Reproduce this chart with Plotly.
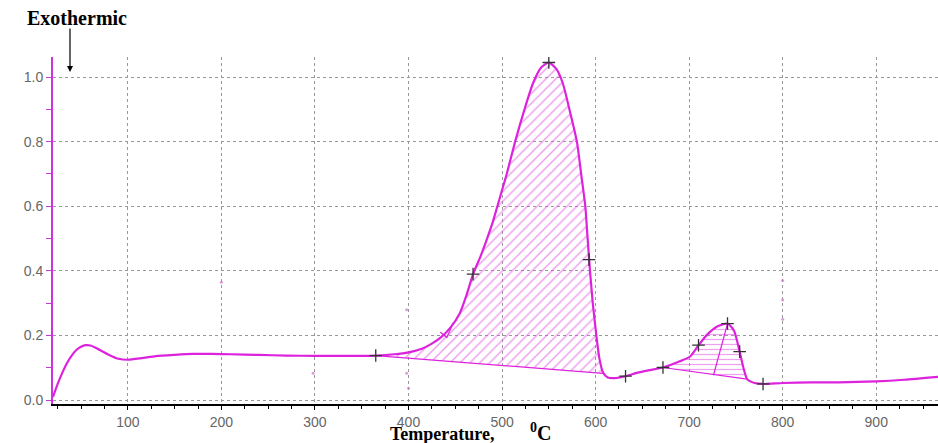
import plotly.graph_objects as go

# ---- data ----
temperature = [20, 25, 30, 35, 40, 45, 50, 55, 60, 65, 70, 80, 90, 100, 115, 130, 150, 170, 190,
               210, 240, 270, 300, 330, 365, 385, 400, 415, 425, 435, 445, 455, 462, 469, 477, 484,
               490, 495, 505, 514, 524, 533, 542, 550, 558, 565, 572, 580, 585, 589, 591, 594, 597,
               601, 604, 608, 613, 620, 632, 645, 658, 672, 690, 701, 710, 720, 730, 741, 748, 754,
               758, 762, 770, 779, 800, 830, 860, 900, 930, 966]
signal = [0.01, 0.05, 0.085, 0.115, 0.138, 0.155, 0.165, 0.17, 0.169, 0.163, 0.155, 0.14, 0.128,
          0.125, 0.13, 0.136, 0.14, 0.143, 0.143, 0.142, 0.14, 0.138, 0.137, 0.137, 0.138, 0.142,
          0.148, 0.16, 0.175, 0.195, 0.225, 0.27, 0.325, 0.39, 0.445, 0.5, 0.55, 0.6, 0.7, 0.8, 0.9,
          0.98, 1.03, 1.045, 1.025, 0.98, 0.9, 0.8, 0.69, 0.6, 0.52, 0.4, 0.3, 0.195, 0.13, 0.085,
          0.07, 0.068, 0.074, 0.085, 0.093, 0.101, 0.12, 0.135, 0.17, 0.205, 0.228, 0.237, 0.215,
          0.15, 0.10, 0.065, 0.053, 0.05, 0.053, 0.055, 0.055, 0.058, 0.063, 0.072]

marker_t = [365, 469, 550, 593, 632, 672, 710, 741, 754, 779]
marker_y = [0.138, 0.39, 1.045, 0.435, 0.074, 0.101, 0.17, 0.237, 0.15, 0.05]

peak1_range = (365, 608)
peak1_base = [(365, 0.138), (608, 0.083)]
peak2_range = (672, 762)
peak2_base = [(672, 0.101), (762, 0.065)]
peak2_drop = [(741, 0.237), (726, 0.077)]
peak1_mark = [(434, 0.21), (441, 0.194), (448, 0.24)]

stray_t = [200, 298, 398, 398, 400, 800, 800, 800]
stray_y = [0.365, 0.083, 0.28, 0.083, 0.037, 0.31, 0.25, 0.37]

x_ticks = [100, 200, 300, 400, 500, 600, 700, 800, 900]
y_ticks = [0.0, 0.2, 0.4, 0.6, 0.8, 1.0]

MAG = "#dd22dd"
SERIF = "Liberation Serif, Times New Roman, serif"


def region(lo, hi, base):
    xs = [t for t in temperature if lo <= t <= hi]
    ys = [s for t, s in zip(temperature, signal) if lo <= t <= hi]
    xs += [base[1][0], base[0][0]]
    ys += [base[1][1], base[0][1]]
    return xs, ys


fig = go.Figure()

x1, y1 = region(*peak1_range, peak1_base)
fig.add_trace(go.Scatter(x=x1, y=y1, mode="lines", fill="toself", line=dict(width=0),
                         fillcolor="rgba(0,0,0,0)",
                         fillpattern=dict(shape="/", fgcolor="#dd44dd", bgcolor="rgba(0,0,0,0)",
                                          size=7, solidity=0.22),
                         hoverinfo="skip", showlegend=False))
x2, y2 = region(*peak2_range, peak2_base)
fig.add_trace(go.Scatter(x=x2, y=y2, mode="lines", fill="toself", line=dict(width=0),
                         fillcolor="rgba(0,0,0,0)",
                         fillpattern=dict(shape="-", fgcolor="#dd44dd", bgcolor="rgba(0,0,0,0)",
                                          size=5, solidity=0.25),
                         hoverinfo="skip", showlegend=False))

for seg in (peak1_base, peak2_base, peak2_drop, peak1_mark):
    fig.add_trace(go.Scatter(x=[p[0] for p in seg], y=[p[1] for p in seg], mode="lines",
                             line=dict(color=MAG, width=1.2), showlegend=False, hoverinfo="skip"))

fig.add_trace(go.Scatter(x=temperature, y=signal, mode="lines",
                         line=dict(color=MAG, width=2.2, shape="spline", smoothing=0.6),
                         showlegend=False))

fig.add_trace(go.Scatter(x=stray_t, y=stray_y, mode="markers",
                         marker=dict(size=3, color="#d070d0", opacity=0.7),
                         showlegend=False, hoverinfo="skip"))

fig.add_trace(go.Scatter(x=marker_t, y=marker_y, mode="markers",
                         marker=dict(symbol="cross-thin", size=9,
                                     line=dict(color="#333333", width=1.3)),
                         showlegend=False))

fig.update_layout(
    width=938, height=443,
    margin=dict(l=53, r=0, t=57, b=39),
    plot_bgcolor="white", paper_bgcolor="white",
    font=dict(family="Liberation Sans, Arial, sans-serif", size=14, color="#666666"),
    xaxis=dict(range=[20, 966], tickvals=x_ticks, ticks="outside", ticklen=4,
               tickcolor="black", showline=True, linecolor="black", linewidth=2,
               showgrid=True, gridcolor="#999999", griddash="dot", gridwidth=1,
               minor=dict(dtick=25, tick0=0, ticks="outside", ticklen=3, tickcolor="black",
                          showgrid=False),
               zeroline=False, tickfont=dict(size=14, color="#666666")),
    yaxis=dict(range=[-0.012, 1.062], tickvals=y_ticks, tickformat=".1f", ticks="outside",
               ticklen=5, tickcolor="#cc33dd", showline=True, linecolor="#cc33dd", linewidth=2,
               showgrid=True, gridcolor="#999999", griddash="3px,3px", gridwidth=1,
               minor=dict(dtick=0.1, tick0=0, ticks="outside", ticklen=5, tickcolor="#cc33dd",
                          showgrid=False),
               zeroline=False, tickfont=dict(size=14, color="#666666")),
    annotations=[
        dict(text="<b>Exothermic</b>", xref="paper", yref="paper", x=-0.0316, y=1.112,
             xanchor="left", yanchor="middle", showarrow=False,
             font=dict(family=SERIF, size=20, color="black")),
        dict(text="", xref="paper", yref="paper", x=0.0192, y=0.957, ax=0, ay=-45,
             showarrow=True, arrowhead=2, arrowsize=1, arrowwidth=1.2, arrowcolor="black"),
        dict(text="<b>Temperature,</b>", xref="paper", yref="paper",
             x=0.3785, y=-0.12, xanchor="left", yanchor="bottom", showarrow=False,
             font=dict(family=SERIF, size=18, color="black")),
        dict(text="<b><sup>0</sup>C</b>", xref="paper", yref="paper",
             x=0.537, y=-0.12, xanchor="left", yanchor="bottom", showarrow=False,
             font=dict(family=SERIF, size=20, color="black")),
    ],
)

fig.write_html("out.html", config={"displayModeBar": False})

with open("out.html", "r", encoding="utf-8") as f:
    html = f.read()
html = html.replace("<body>", '<body style="margin:0;padding:0;overflow:hidden">', 1)
with open("out.html", "w", encoding="utf-8") as f:
    f.write(html)
